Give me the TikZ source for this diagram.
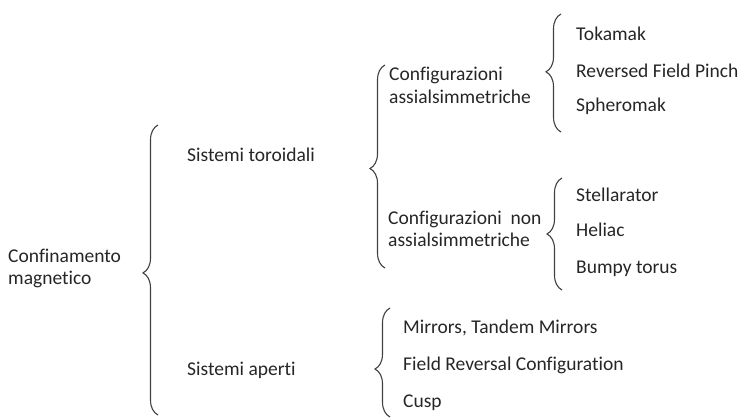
\documentclass[tikz,border=0pt]{standalone}
\usepackage{fontspec}
\setmainfont{Carlito}[Ligatures={NoCommon}]
\usetikzlibrary{decorations.pathreplacing}
\begin{document}
\begin{tikzpicture}[x=1pt,y=-1pt,
  lbl/.style={anchor=base west,inner sep=0pt,font=\fontsize{19.5}{22.5}\selectfont,text=black!85,align=left},
  curly/.style={draw=black!75,line width=1.1pt,decorate,decoration={brace,amplitude=15pt,aspect=#1}},
  curly/.default=0.5]
\useasboundingbox (0,0) rectangle (742,419);
% texts (multi-line nodes: base = last line)
\node[lbl] (conf) at (8,285) {Confinamento\\magnetico};
\node[lbl] (tor) at (187,162) {Sistemi toroidali};
\node[lbl] (ape) at (187,376) {Sistemi aperti};
\node[lbl] (cas) at (389,103.5) {Configurazioni\\assialsimmetriche};
\node[lbl] (tok) at (576,41) {Tokamak};
\node[lbl] (rfp) at (576,78) {Reversed Field Pinch};
\node[lbl] (sph) at (576,112) {Spheromak};
\node[lbl] (cnas) at (388,247) {Configurazioni\ \ non\\assialsimmetriche};
\node[lbl] (ste) at (576,202) {Stellarator};
\node[lbl] (hel) at (576,237) {Heliac};
\node[lbl] (bum) at (576,274) {Bumpy torus};
\node[lbl] (mir) at (403,334) {Mirrors, Tandem Mirrors};
\node[lbl] (frc) at (403,371) {Field Reversal Configuration};
\node[lbl] (cus) at (403,408) {Cusp};
% brace end points
\coordinate (b1t) at (158,125); \coordinate (b1b) at (158,415);
\coordinate (b2t) at (385,65);  \coordinate (b2b) at (385,268);
\coordinate (b3t) at (561,14);  \coordinate (b3b) at (561,132);
\coordinate (b4t) at (562,178); \coordinate (b4b) at (562,290);
\coordinate (b5t) at (390,308); \coordinate (b5b) at (390,417);
\draw[curly=0.49] (b1b) -- (b1t);
\draw[curly=0.49] (b2b) -- (b2t);
\draw[curly=0.51] (b3b) -- (b3t);
\draw[curly=0.5] (b4b) -- (b4t);
\draw[curly=0.44] (b5b) -- (b5t);
\end{tikzpicture}
\end{document}
